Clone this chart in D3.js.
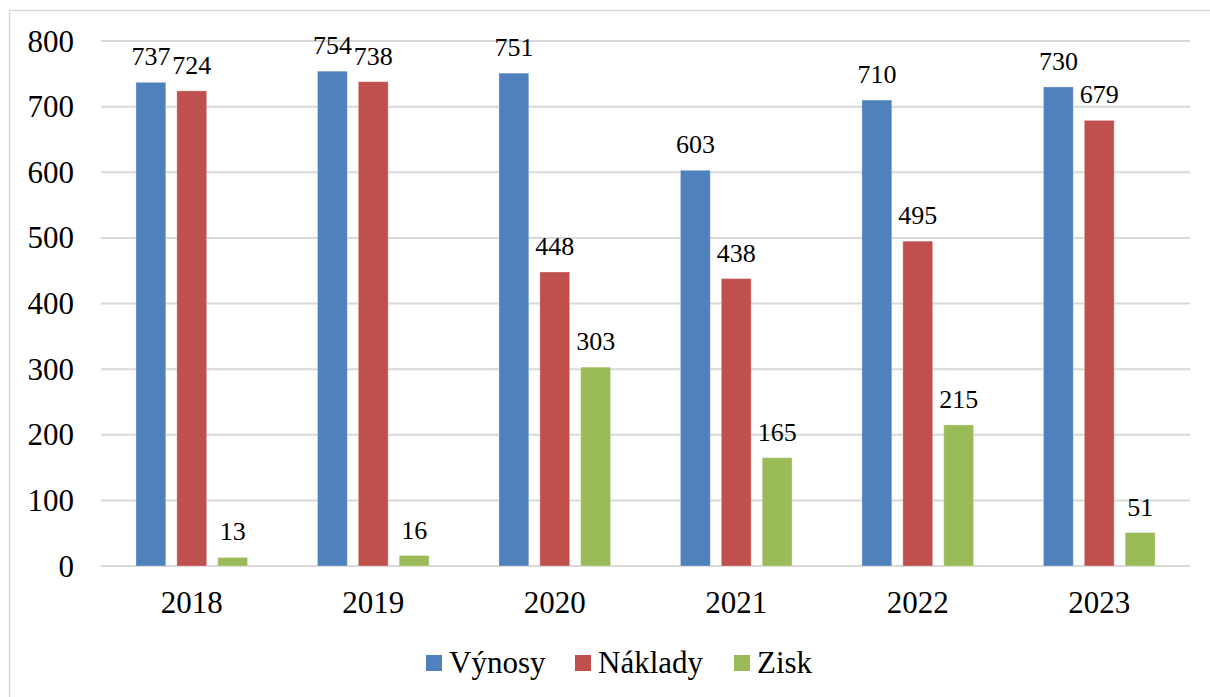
<!DOCTYPE html>
<html>
<head>
<meta charset="utf-8">
<script src="https://cdn.jsdelivr.net/npm/d3@7"></script>
<style>
  body { margin: 0; background: #fff; }
</style>
</head>
<body>
<div id="chart"></div>
<script>
var years = ["2018", "2019", "2020", "2021", "2022", "2023"];
var seriesNames = ["Výnosy", "Náklady", "Zisk"];
var seriesColors = ["#4f81bd", "#c0504d", "#9bbb59"];
var vynosy = [737, 754, 751, 603, 710, 730];
var naklady = [724, 738, 448, 438, 495, 679];
var zisk = [13, 16, 303, 165, 215, 51];
var yTicks = [0, 100, 200, 300, 400, 500, 600, 700, 800];

var WIDTH = 1210, HEIGHT = 697;
var FONT = "'Liberation Serif', 'Times New Roman', serif";
var series = [vynosy, naklady, zisk];

var svg = d3.select("#chart").append("svg")
    .attr("width", WIDTH)
    .attr("height", HEIGHT);

// outer frame
svg.append("rect")
    .attr("x", 9.5).attr("y", 10.5)
    .attr("width", 1210).attr("height", 700)
    .attr("fill", "none")
    .attr("stroke", "#d9d9d9")
    .attr("stroke-width", 1.5);

var x0 = d3.scaleBand().domain(years).range([101, 1190]).paddingInner(0.385).paddingOuter(0.1925);
var x1 = d3.scaleBand().domain(d3.range(3)).range([0, x0.bandwidth()]).paddingInner(0.27);
var y = d3.scaleLinear().domain([0, 800]).range([566, 41]);

// gridlines
svg.append("g").selectAll("line")
    .data(yTicks).enter()
    .append("line")
    .attr("x1", 101).attr("x2", 1190)
    .attr("y1", function (d) { return y(d); })
    .attr("y2", function (d) { return y(d); })
    .attr("stroke", "#d9d9d9")
    .attr("stroke-width", 2);

// y tick labels
svg.append("g").selectAll("text")
    .data(yTicks).enter()
    .append("text")
    .attr("x", 74)
    .attr("y", function (d) { return y(d) + 10.5; })
    .attr("text-anchor", "end")
    .attr("font-family", FONT)
    .attr("font-size", 31)
    .text(function (d) { return d; });

// x labels
svg.append("g").selectAll("text")
    .data(years).enter()
    .append("text")
    .attr("x", function (d) { return x0(d) + x0.bandwidth() / 2; })
    .attr("y", 613)
    .attr("text-anchor", "middle")
    .attr("font-family", FONT)
    .attr("font-size", 31)
    .text(function (d) { return d; });

// bars + labels
var groups = svg.append("g").selectAll("g")
    .data(years).enter()
    .append("g")
    .attr("transform", function (d) { return "translate(" + x0(d) + ",0)"; });

var cells = function (d, i) {
    return series.map(function (s, k) { return { k: k, v: s[i] }; });
};

groups.selectAll("rect")
    .data(cells).enter()
    .append("rect")
    .attr("x", function (d) { return x1(d.k); })
    .attr("width", x1.bandwidth())
    .attr("y", function (d) { return y(d.v); })
    .attr("height", function (d) { return y(0) - y(d.v); })
    .attr("fill", function (d) { return seriesColors[d.k]; })
    .attr("stroke", "rgba(255,255,255,0.3)")
    .attr("stroke-width", 1);

groups.selectAll("text")
    .data(cells).enter()
    .append("text")
    .attr("x", function (d) { return x1(d.k) + x1.bandwidth() / 2; })
    .attr("y", function (d) { return y(d.v) - 17; })
    .attr("text-anchor", "middle")
    .attr("font-family", FONT)
    .attr("font-size", 26)
    .text(function (d) { return d.v; });

// legend
var legendX = [426, 575, 734];
var legend = svg.append("g").selectAll("g")
    .data(seriesNames).enter()
    .append("g")
    .attr("transform", function (d, i) { return "translate(" + legendX[i] + ",0)"; });

legend.append("rect")
    .attr("x", 0).attr("y", 655)
    .attr("width", 16).attr("height", 16)
    .attr("fill", function (d, i) { return seriesColors[i]; });

legend.append("text")
    .attr("x", 23).attr("y", 673)
    .attr("font-family", FONT)
    .attr("font-size", 31)
    .text(function (d) { return d; });
</script>
</body>
</html>
